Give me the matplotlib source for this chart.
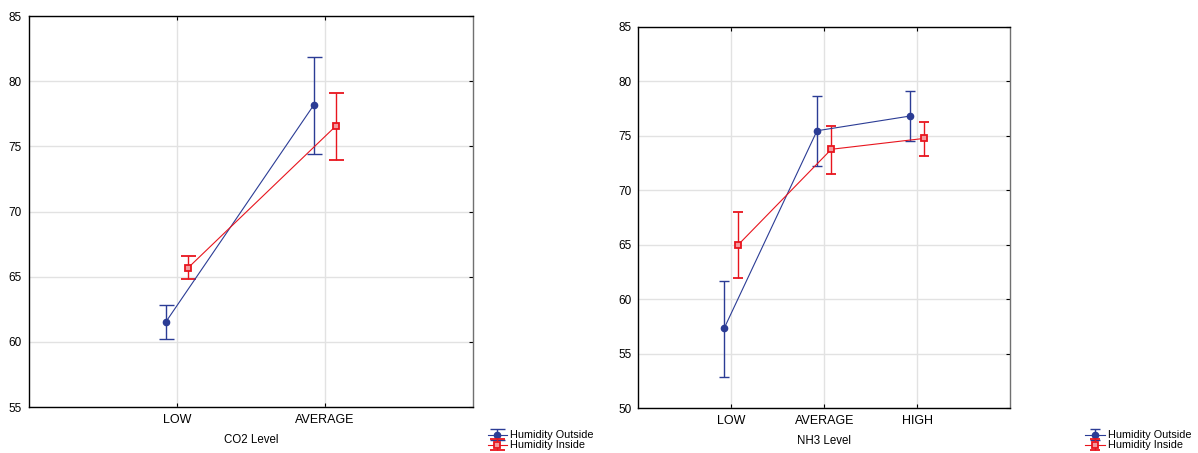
import matplotlib
matplotlib.use("Agg")
import matplotlib.pyplot as plt
import numpy as np

plt.rcParams['font.family'] = ['Liberation Sans', 'DejaVu Sans']

# ---- Data ----
co2_levels = ["LOW", "AVERAGE"]
co2_out_mean = [61.5, 78.15]
co2_out_low = [60.2, 74.4]
co2_out_high = [62.8, 81.85]
co2_in_mean = [65.7, 76.6]
co2_in_low = [64.8, 73.95]
co2_in_high = [66.6, 79.1]

nh3_levels = ["LOW", "AVERAGE", "HIGH"]
nh3_out_mean = [57.3, 75.45, 76.8]
nh3_out_low = [52.85, 72.2, 74.5]
nh3_out_high = [61.7, 78.6, 79.1]
nh3_in_mean = [65.0, 73.75, 74.75]
nh3_in_low = [61.9, 71.5, 73.15]
nh3_in_high = [68.0, 75.9, 76.3]

series_labels = ["Humidity Outside", "Humidity Inside"]

BLUE = "#2B3C95"
RED = "#E8151E"
OFF = 0.077


def draw(ax, cats, om, ol, oh, im, il, ih, ylim, xlabel, capsize):
    x = np.arange(len(cats))
    om, ol, oh = map(np.array, (om, ol, oh))
    im, il, ih = map(np.array, (im, il, ih))
    h1 = ax.errorbar(x - OFF, om, yerr=[om - ol, oh - om], color=BLUE, lw=0.8,
                     elinewidth=1.0, capsize=capsize, capthick=1.0, marker='o',
                     markersize=4.5, markerfacecolor=BLUE, markeredgecolor=BLUE,
                     label=series_labels[0], zorder=3)
    h2 = ax.errorbar(x + OFF, im, yerr=[im - il, ih - im], color=RED, lw=0.8,
                     elinewidth=1.0, capsize=capsize, capthick=1.0, marker='s',
                     markersize=4.5, markerfacecolor='#F39A9D', markeredgecolor=RED,
                     markeredgewidth=1.3, label=series_labels[1], zorder=3)
    ax.set_xlim(-1, len(cats))
    ax.set_ylim(*ylim)
    ax.set_yticks(np.arange(ylim[0], ylim[1] + 1, 5))
    ax.set_xticks(x)
    ax.set_xticklabels(cats, fontsize=9)
    ax.tick_params(axis='y', labelsize=8.5, left=False, right=True, direction='in', length=3, pad=5)
    ax.tick_params(axis='x', top=True, bottom=True, direction='in', length=3, pad=5)
    ax.grid(True, color='#E2E2E2', lw=1.0, zorder=0)
    ax.set_axisbelow(True)
    for s in ax.spines.values():
        s.set_color('black')
        s.set_linewidth(1.0)
    ax.spines['right'].set_color('#707070')
    ax.set_xlabel(xlabel, fontsize=8.3, labelpad=6)
    return h1, h2


fig = plt.figure(figsize=(11.98, 4.53), dpi=100)
ax1 = fig.add_axes([0.0242, 0.1015, 0.3706, 0.8631])
ax2 = fig.add_axes([0.5328, 0.0993, 0.3103, 0.8417])

h1, h2 = draw(ax1, co2_levels, co2_out_mean, co2_out_low, co2_out_high,
              co2_in_mean, co2_in_low, co2_in_high, (55, 85), "CO2 Level", 5.4)
g1, g2 = draw(ax2, nh3_levels, nh3_out_mean, nh3_out_low, nh3_out_high,
              nh3_in_mean, nh3_in_low, nh3_in_high, (50, 85), "NH3 Level", 3.6)

leg_kw = dict(frameon=False, fontsize=7.8, loc='upper left', handlelength=1.8,
              handletextpad=0.3, labelspacing=0.0, borderpad=0, borderaxespad=0)
fig.legend([h1, h2], series_labels, bbox_to_anchor=(0.407, 0.05), **leg_kw)
fig.legend([g1, g2], series_labels, bbox_to_anchor=(0.906, 0.05), **leg_kw)

fig.savefig("out.png", dpi=100)
